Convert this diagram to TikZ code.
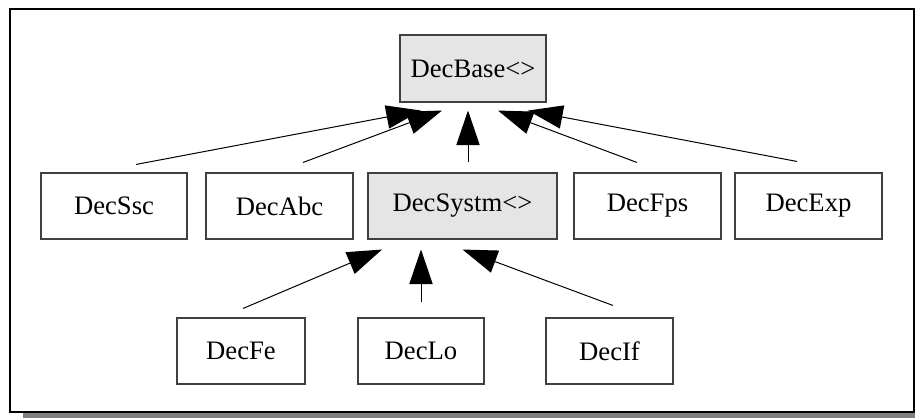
\documentclass[tikz,border=0pt]{standalone}
\usepackage{fontspec}
\setmainfont{Liberation Serif}
\usetikzlibrary{arrows.meta,calc}
\definecolor{boxgray}{gray}{0.898}
\tikzset{
  cls/.style={draw=black!75, line width=0.8pt, rectangle, inner sep=0pt,
    minimum height=66, font=\fontsize{20pt}{22pt}\selectfont},
  abstractcls/.style={cls, fill=boxgray},
  inherit/.style={line width=0.75pt, -{Triangle[length=26pt, width=17.5pt]}}
}
\begin{document}
\begin{tikzpicture}[x=0.75pt, y=-0.75pt]
  \useasboundingbox (0,0) rectangle (915,418);
  % frame with drop shadow
  \fill[black!50] (23,413) rectangle (915,418);
  \draw[line width=1.5pt, fill=white] (10,9) rectangle (913.5,412);

  % top level
  \node[abstractcls, minimum width=146*0.75pt, minimum height=67*0.75pt] (base) at (473,68.5) {DecBase<>};

  % second level
  \node[cls, minimum width=146*0.75pt, minimum height=66*0.75pt] (ssc) at (114,206) {DecSsc};
  \node[cls, minimum width=147*0.75pt, minimum height=66*0.75pt] (abc) at (279.5,206) {DecAbc};
  \node[abstractcls, minimum width=189*0.75pt, minimum height=66*0.75pt] (systm) at (462.5,206) {DecSystm<>};
  \node[cls, minimum width=147*0.75pt, minimum height=66*0.75pt] (fps) at (647.5,206) {DecFps};
  \node[cls, minimum width=147*0.75pt, minimum height=66*0.75pt] (exp) at (808.5,206) {DecExp};

  % third level
  \node[cls, minimum width=128*0.75pt, minimum height=66*0.75pt] (fe) at (241,351) {DecFe};
  \node[cls, minimum width=126*0.75pt, minimum height=66*0.75pt] (lo) at (421,351) {DecLo};
  \node[cls, minimum width=127*0.75pt, minimum height=66*0.75pt] (if) at (609.5,351) {DecIf};

  % inheritance arrows into DecBase<>
  \draw[inherit] ($(ssc.north)+(22,-8)$) -- ($(base.south)+(-52,8)$);
  \draw[inherit] ($(abc.north)+(23.5,-10)$) -- ($(base.south)+(-31,8)$);
  \draw[inherit] ($(systm.north)+(5.5,-10)$) -- ($(base.south)+(-5,8)$);
  \draw[inherit] ($(fps.north)+(-10.5,-10)$) -- ($(base.south)+(25,8)$);
  \draw[inherit] ($(exp.north)+(-11.5,-11)$) -- ($(base.south)+(55,8)$);

  % inheritance arrows into DecSystm<>
  \draw[inherit] ($(fe.north)+(2,-9)$) -- ($(systm.south)+(-80.5,10)$);
  \draw[inherit] ($(lo.north)+(0,-15)$) -- ($(systm.south)+(-41.5,10)$);
  \draw[inherit] ($(if.north)+(3.5,-12)$) -- ($(systm.south)+(0,10)$);
\end{tikzpicture}
\end{document}
